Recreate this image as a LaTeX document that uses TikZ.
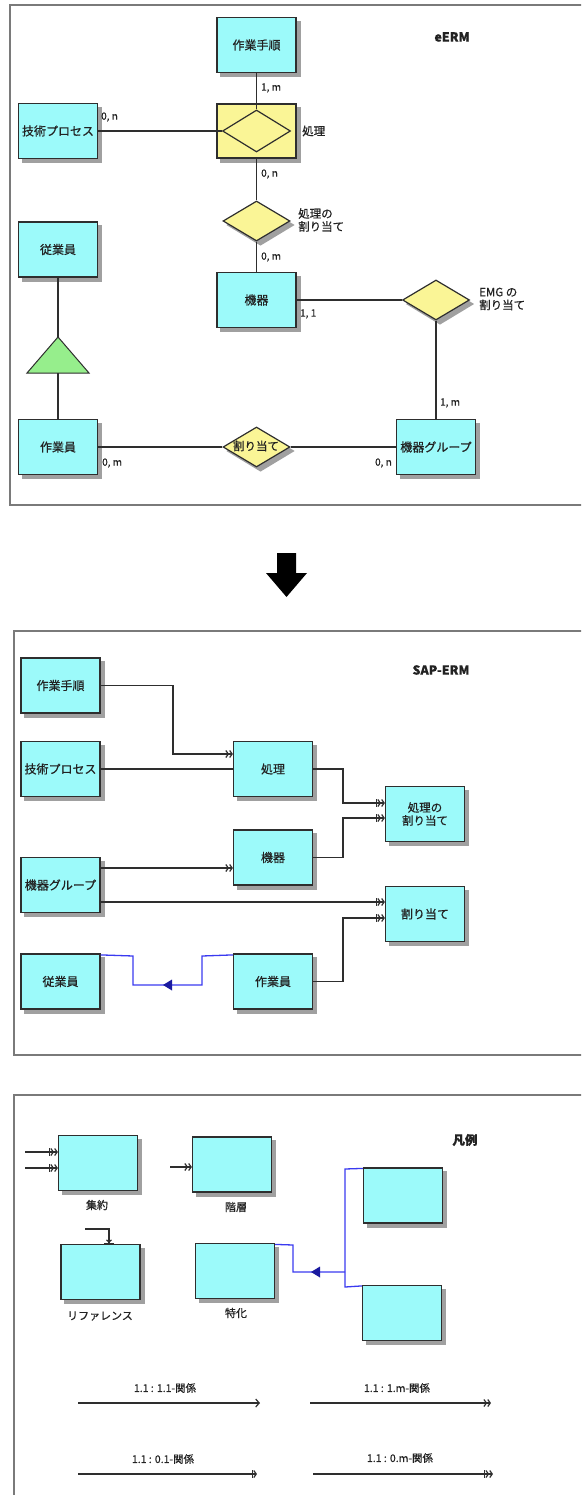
\documentclass[tikz,border=0pt]{standalone}
\usepackage{fontspec}
\setmainfont{Noto Sans CJK JP}[FakeBold=0.6]
\usetikzlibrary{arrows.meta,shapes.geometric}
\definecolor{boxc}{HTML}{9CFAFA}
\definecolor{yelc}{HTML}{FAF596}
\definecolor{grnc}{HTML}{96EE8C}
\definecolor{blul}{HTML}{3A3AF0}
\definecolor{blud}{HTML}{1A1AA0}
\definecolor{frm}{HTML}{7A7A7A}
\definecolor{edgec}{HTML}{2E2E2E}
\definecolor{txt}{HTML}{222222}
\definecolor{shdc}{HTML}{A0A0A0}
\pgfdeclarelayer{bg}
\pgfsetlayers{bg,main}
\begin{document}
\begin{tikzpicture}[x=1pt,y=-1pt,
  ent/.style={draw=edgec,line width=1.2pt,fill=boxc,minimum width=79pt,minimum height=55pt,inner sep=0pt,text=txt,font=\fontsize{12}{13}\selectfont},
  ybox/.style={draw=edgec,line width=1.2pt,fill=yelc,minimum width=79pt,minimum height=54pt,inner sep=0pt},
  dia/.style={diamond,draw=edgec,line width=1.2pt,fill=yelc,inner sep=0pt,minimum width=67pt,minimum height=40pt},
  diain/.style={diamond,draw=edgec,line width=1.2pt,fill=yelc,inner sep=0pt,minimum width=68pt,minimum height=42pt},
  shd/.style={fill=shdc,draw=none},
  conn/.style={draw=edgec,line width=1.2pt},
  blu/.style={draw=blul,line width=1.3pt},
  frame/.style={draw=frm,line width=1.8pt},
  lbl/.style={inner sep=0pt,text=txt,font=\fontsize{10}{11}\selectfont},
  dlbl/.style={inner sep=0pt,text=txt,align=left,font=\fontsize{11.5}{13}\selectfont},
  ttl/.style={inner sep=0pt,text=txt,font=\fontsize{12.5}{14}\selectfont\bfseries},
  oneone/.style={-{Straight Barb[length=3.5pt,width=8pt]}},
  onem/.style={-{Straight Barb[length=2.5pt,width=7pt]Straight Barb[length=2.5pt,width=7pt]}},
  zeroone/.style={-{Bar[width=8pt]Straight Barb[length=2.5pt,width=7pt]}},
  zerom/.style={-{Bar[width=8pt]Straight Barb[length=2.5pt,width=7pt]Straight Barb[length=2.5pt,width=7pt]}},
  refa/.style={-{Straight Barb[length=2pt,width=5pt]Bar[width=10pt]}}
]
\useasboundingbox (0,0) rectangle (581,1495);
\clip (0,0) rectangle (581,1495);

% ================= eERM =================
\draw[frame] (10,5) rectangle (620,505);
\node[ttl] (tTitle) at (452,37) {eERM};

\node[ent] (tP) at (256.5,45) {作業手順};
\node[ent] (tT) at (58,131) {技術プロセス};
\node[ybox] (tY) at (256.5,131) {};
\node[diain] (tYd) at (256.5,131) {};
\node[dia] (tD2) at (256.5,221) {};
\node[ent] (tE) at (58,249.5) {従業員};
\node[ent] (tM) at (256.5,300) {機器};
\node[dia] (tEMG) at (436,300) {};
\node[ent] (tW) at (58,447) {作業員};
\node[dia] (tA) at (256.5,447) {};
\node[ent] (tG) at (436,447) {機器グループ};

\coordinate (triA) at (58,337);
\coordinate (triB) at (58,373);
\draw[draw=edgec,line width=1pt,fill=grnc] (triA) -- (89,373) -- (27,373) -- cycle;

\draw[conn] (tP.south) -- (tYd.north);
\draw[conn] (tT.east) -- (tYd.west);
\draw[conn] (tY.south) -- (tD2.north);
\draw[conn] (tD2.south) -- (tM.north);
\draw[conn] (tM.east) -- (tEMG.west);
\draw[conn] (tEMG.south) -- (tG.north);
\draw[conn] (tW.east) -- (tA.west);
\draw[conn] (tA.east) -- (tG.west);
\draw[conn] (tE.south) -- (triA);
\draw[conn] (triB) -- (tW.north);

\node[lbl,anchor=west] (c1) at (261,88) {1, m};
\node[lbl,anchor=west] (c2) at (101,117) {0, n};
\node[lbl,anchor=west] (c3) at (261,174) {0, n};
\node[lbl,anchor=west] (c4) at (261,257) {0, m};
\node[lbl,anchor=west] (c5) at (300,314) {1, 1};
\node[lbl,anchor=west] (c6) at (440,403) {1, m};
\node[lbl,anchor=west] (c7) at (102,463) {0, m};
\node[lbl,anchor=east] (c8) at (392,463) {0, n};

\node[dlbl,anchor=west] (dl1) at (302,131) {処理};
\node[dlbl,anchor=west] (dl2) at (298,220) {処理の\\割り当て};
\node[dlbl,anchor=west] (dl3) at (479,299) {EMG の\\割り当て};
\node[dlbl] (dl4) at (256,446) {割り当て};

% big arrow
\fill[black] (277,553) -- (296,553) -- (296,573) -- (307,573) -- (286.5,597) -- (266,573) -- (277,573) -- cycle;

% ================= SAP-ERM =================
\draw[frame] (14,631) rectangle (620,1055);
\node[ttl] (mTitle) at (441,670) {SAP-ERM};

\node[ent] (mP) at (60.5,685.5) {作業手順};
\node[ent] (mT) at (60.5,769) {技術プロセス};
\node[ent] (mS) at (273,769) {処理};
\node[ent,align=center,font=\fontsize{11.5}{13}\selectfont] (mSA) at (425,814) {処理の\\割り当て};
\node[ent] (mK) at (273,857.5) {機器};
\node[ent] (mG) at (60.5,885) {機器グループ};
\node[ent] (mA) at (425,914) {割り当て};
\node[ent] (mE) at (60.5,981.5) {従業員};
\node[ent] (mW) at (273,981.5) {作業員};

\draw[conn,onem] (mP.east) -- (173,685.5) |- ([yshift=15pt]mS.west);
\draw[conn] (mT.east) -- (mS.west);
\draw[conn,zerom] (mS.east) -- (343,769) |- ([yshift=11pt]mSA.west);
\draw[conn,zerom] (mK.east) -- (343,857.5) |- ([yshift=-4pt]mSA.west);
\draw[conn,onem] ([yshift=17pt]mG.east) -- ([yshift=17pt]mG.east -| mK.west);
\draw[conn,zerom] ([yshift=-17pt]mG.east) -- ([yshift=-17pt]mG.east -| mA.west);
\draw[conn,zerom] (mW.east) -- (343,981.5) |- ([yshift=-4pt]mA.west);

\draw[blu] ([yshift=-1.5pt]mE.north east) -- (133,956) -- (133,985) -- (202,985) -- (202,956) -- ([yshift=-1.5pt]mW.north west);
\fill[blud] (163,985) -- (172,979.5) -- (172,990.5) -- cycle;

% ================= Legend =================
\draw[frame] (14,1095) rectangle (620,1540);
\node[ttl] (lTitle) at (465,1140) {凡例};

\node[ent] (lAg) at (98,1163) {};
\node[lbl,font=\fontsize{11}{12}\selectfont] (lAgT) at (97,1205) {集約};
\coordinate (ag1) at (25,1152);
\coordinate (ag2) at (25,1168);
\draw[conn,zerom] (ag1) -- (ag1 -| lAg.west);
\draw[conn,zerom] (ag2) -- (ag2 -| lAg.west);

\node[ent] (lH) at (232,1164.5) {};
\node[lbl,font=\fontsize{11}{12}\selectfont] (lHT) at (236,1207) {階層};
\coordinate (hi1) at (170,1167);
\draw[conn,onem] (hi1) -- (hi1 -| lH.west);

\node[ent] (lR) at (100.5,1272) {};
\node[lbl,font=\fontsize{11}{12}\selectfont] (lRT) at (100,1316) {リファレンス};
\coordinate (rf1) at (85,1229);
\draw[conn,refa] (rf1) -| ([xshift=8.5pt]lR.north);

\node[ent] (lS) at (235,1271) {};
\node[lbl,font=\fontsize{11}{12}\selectfont] (lST) at (236,1313) {特化};
\node[ent] (lU) at (403,1195.5) {};
\node[ent] (lD) at (402,1313) {};
\coordinate (sp1) at (345,1272);
\draw[blu] ([yshift=-1.5pt]lS.north east) -- (293,1245) -- (293,1272) -- (sp1);
\draw[blu] ([yshift=-1pt]lU.north west) -- (345,1169) -- (345,1287) -- ([yshift=-1pt]lD.north west);
\fill[blud] (311,1272) -- (320,1266.5) -- (320,1277.5) -- cycle;

\coordinate (la1) at (78,1403);
\coordinate (lb1) at (260,1403);
\coordinate (la2) at (310,1403);
\coordinate (lb2) at (491,1403);
\coordinate (la3) at (78,1474);
\coordinate (lb3) at (257,1474);
\coordinate (la4) at (313,1474);
\coordinate (lb4) at (493,1474);
\draw[conn,oneone] (la1) -- (lb1);
\draw[conn,onem] (la2) -- (lb2);
\draw[conn,zeroone] (la3) -- (lb3);
\draw[conn,zerom] (la4) -- (lb4);
\node[lbl,font=\fontsize{10.5}{12}\selectfont] (lt1) at (165,1388) {1.1 : 1.1-関係};
\node[lbl,font=\fontsize{10.5}{12}\selectfont] (lt2) at (397,1388) {1.1 : 1.m-関係};
\node[lbl,font=\fontsize{10.5}{12}\selectfont] (lt3) at (163,1459) {1.1 : 0.1-関係};
\node[lbl,font=\fontsize{10.5}{12}\selectfont] (lt4) at (400,1458) {1.1 : 0.m-関係};

% ================= shadows (behind) =================
\begin{pgfonlayer}{bg}
\foreach \n in {tP,tT,tY,tE,tM,tW,tG,mP,mT,mS,mSA,mK,mG,mA,mE,mW,lAg,lH,lR,lS,lU,lD}{
  \fill[shd] ([shift={(4,4)}]\n.north west) rectangle ([shift={(4,4)}]\n.south east);
}
\foreach \n in {tD2,tEMG,tA}{
  \fill[shd] ([shift={(4,4)}]\n.north) -- ([shift={(4,4)}]\n.east) -- ([shift={(4,4)}]\n.south) -- ([shift={(4,4)}]\n.west) -- cycle;
}
\end{pgfonlayer}
\end{tikzpicture}
\end{document}
